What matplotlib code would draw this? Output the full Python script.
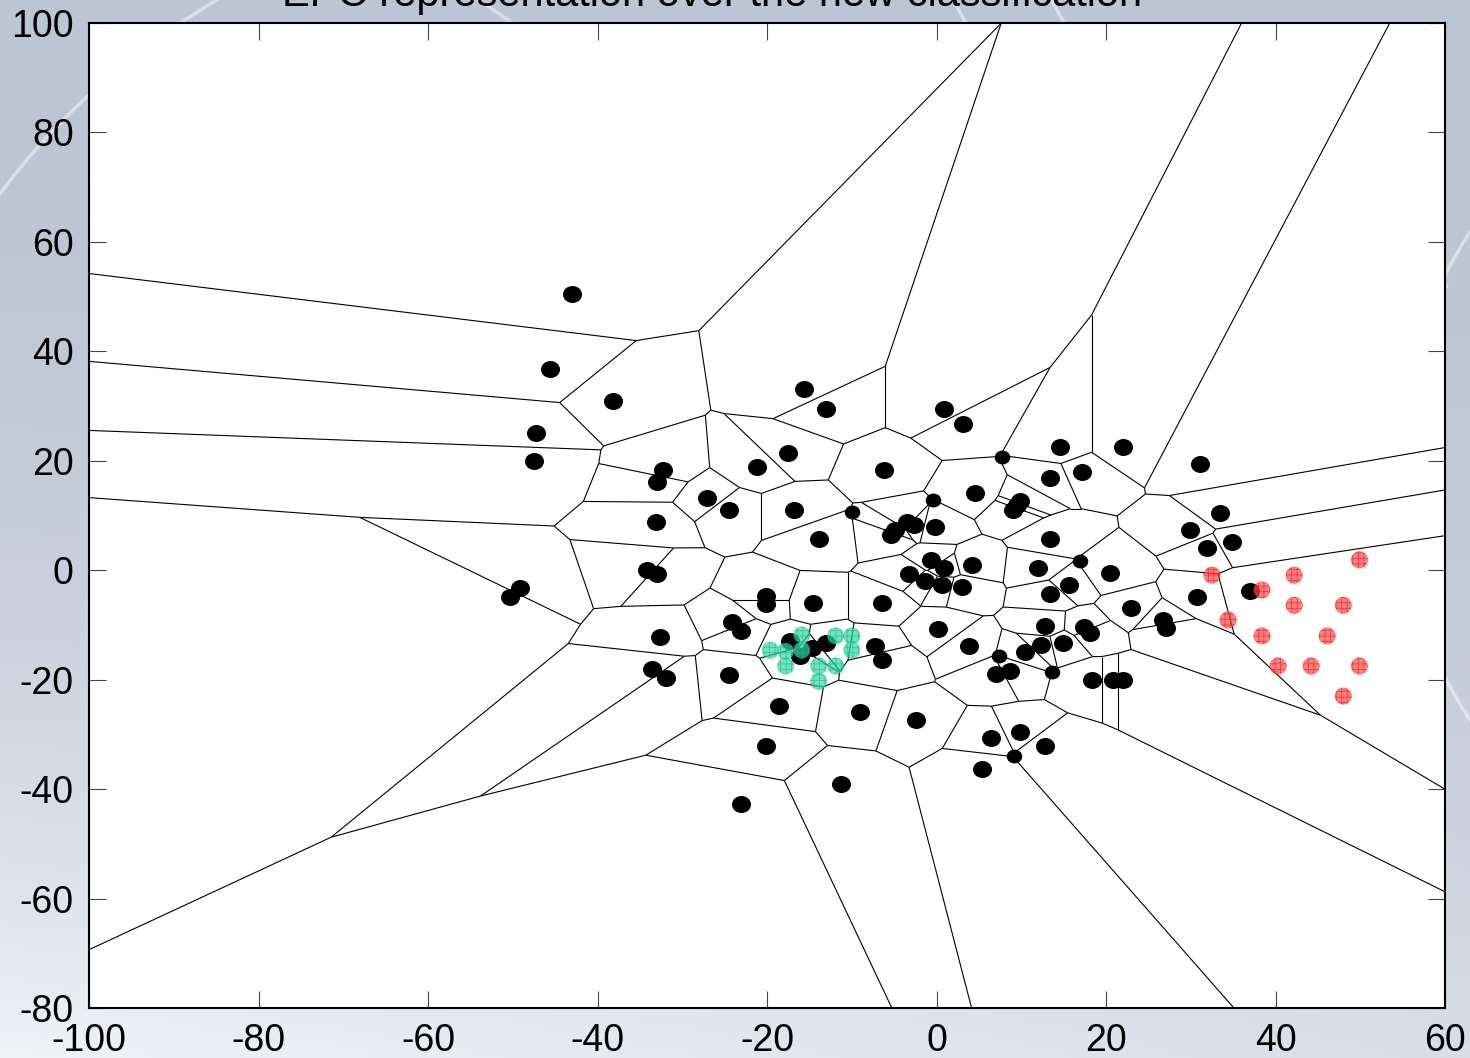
import numpy as np
import matplotlib
matplotlib.use("Agg")
import matplotlib.pyplot as plt
import matplotlib.tri as mtri
from matplotlib.collections import LineCollection
from matplotlib.markers import MarkerStyle
from matplotlib.transforms import Affine2D

plt.rcParams['font.family'] = ['Liberation Sans', 'DejaVu Sans']
plt.rcParams['hatch.linewidth'] = 0.6

# EPC samples (black dots), these are the Voronoi sites
epc_x = [-43.0, -45.6, -38.2, -47.2, -47.5, -32.3, -33.0, -33.1, -34.2, -33.0,
         -49.1, -50.3, -32.6, -33.6, -31.9, -27.1, -24.5, -21.2, -17.5, -15.6,
         -13.0, -16.8, -13.9, -6.2, 0.9, 3.1, -5.4, -4.9, -3.5, -2.7,
         -0.2, 4.5, 9.0, 9.5, 9.9, 13.4, 14.6, 17.2, 22.0, 31.1,
         13.4, 33.5, 29.9, 31.9, 34.9, 30.7, 37.0, 26.7, 27.1, 23.0,
         20.5, 12.0, 15.6, 13.4, 4.2, 0.9, -0.6, -3.2, -1.3, 0.6,
         3.0, -6.4, -14.6, -20.1, -20.1, -24.1, -23.1, -24.5, -18.6, -20.1,
         -23.1, -11.3, -9.0, -2.4, -7.3, -6.4, 0.2, 3.8, 10.4, 12.3,
         12.8, 14.9, 17.4, 18.1, 7.0, 8.7, 18.3, 20.8, 22.0, 6.4,
         9.9, 12.8, 5.4, -17.3, -16.1, -14.7, -13.0]
epc_y = [50.5, 36.8, 30.9, 25.0, 19.9, 18.3, 16.1, 8.8, 0.0, -0.7,
         -3.3, -4.9, -12.2, -18.1, -19.7, 13.2, 11.0, 18.9, 21.4, 33.1,
         29.5, 11.0, 5.7, 18.3, 29.5, 26.7, 6.4, 7.3, 8.8, 8.3,
         7.9, 14.1, 11.0, 11.9, 12.6, 16.8, 22.5, 17.9, 22.5, 19.4,
         5.7, 10.5, 7.3, 4.1, 5.2, -4.9, -3.8, -9.1, -10.6, -6.9,
         -0.5, 0.4, -2.7, -4.3, 1.0, 0.4, 1.9, -0.7, -2.0, -2.7,
         -3.1, -6.0, -6.0, -4.7, -6.2, -9.5, -11.1, -19.2, -24.8, -32.1,
         -42.7, -39.1, -25.9, -27.4, -13.9, -16.4, -10.7, -13.9, -15.0, -13.7,
         -10.2, -13.3, -10.4, -11.5, -19.0, -18.4, -20.1, -20.1, -20.1, -30.7,
         -29.6, -32.1, -36.3, -12.9, -15.7, -14.2, -13.3]

# smaller EPC dots (not used as sites)
epc_small_x = [7.7, -0.4, -10.0, 16.9, 7.4, 13.6, 9.1]
epc_small_y = [20.7, 12.8, 10.6, 1.7, -15.7, -18.6, -34.0]

# new class A (green)
green_x = [-19.6, -17.8, -15.9, -15.9, -17.8, -13.9, -13.9, -11.9, -11.9, -10.0, -10.0]
green_y = [-14.6, -14.8, -11.8, -14.6, -17.5, -17.5, -20.3, -17.5, -12.0, -12.0, -14.6]

# new class B (red)
red_x = [32.5, 42.2, 49.9, 38.4, 42.2, 48.0, 34.4, 38.4, 46.1, 40.3, 44.2, 49.9, 48.0]
red_y = [-0.9, -0.9, 1.9, -3.6, -6.4, -6.4, -9.1, -12.0, -12.0, -17.5, -17.5, -17.5, -23.0]

x_ticks = [-100, -80, -60, -40, -20, 0, 20, 40, 60]
y_ticks = [-80, -60, -40, -20, 0, 20, 40, 60, 80, 100]
title = "EPC representation over the new classification"


def voronoi_segments(x, y, far=3000.0):
    pts = np.column_stack([x, y]).astype(float)
    tri = mtri.Triangulation(pts[:, 0], pts[:, 1])
    t = tri.triangles
    a, b, c = pts[t[:, 0]], pts[t[:, 1]], pts[t[:, 2]]
    d = 2 * (a[:, 0] * (b[:, 1] - c[:, 1]) + b[:, 0] * (c[:, 1] - a[:, 1])
             + c[:, 0] * (a[:, 1] - b[:, 1]))
    sa, sb, sc = (a ** 2).sum(1), (b ** 2).sum(1), (c ** 2).sum(1)
    ux = (sa * (b[:, 1] - c[:, 1]) + sb * (c[:, 1] - a[:, 1]) + sc * (a[:, 1] - b[:, 1])) / d
    uy = (sa * (c[:, 0] - b[:, 0]) + sb * (a[:, 0] - c[:, 0]) + sc * (b[:, 0] - a[:, 0])) / d
    cc = np.column_stack([ux, uy])
    segs = []
    for i in range(len(t)):
        for j in range(3):
            nb = tri.neighbors[i, j]
            if nb > i:
                segs.append([cc[i], cc[nb]])
            elif nb == -1:
                # open cell: send a ray outward, perpendicular to the hull edge
                p = pts[t[i, j]]
                q = pts[t[i, (j + 1) % 3]]
                r = pts[t[i, (j + 2) % 3]]
                e = q - p
                n = np.array([-e[1], e[0]])
                if np.dot(r - p, n) > 0:
                    n = -n
                n = n / np.hypot(n[0], n[1])
                segs.append([cc[i], cc[i] + n * far])
    return segs


fig = plt.figure(figsize=(14.7, 10.58), dpi=100)

# slide background: blue-grey on top, fading lighter towards the bottom, with soft swirls
bg = fig.add_axes([0, 0, 1, 1], zorder=-5)
yy, xx = np.mgrid[0:1:200j, 0:1:300j]
top = np.array([188, 197, 211]) / 255.0
bottom = np.array([240, 242, 246]) / 255.0
w = np.clip((1 - yy) ** 2.2 * (0.55 + 0.45 * (1 - xx)), 0, 1)
grad = top[None, None, :] * (1 - w[..., None]) + bottom[None, None, :] * w[..., None]
bg.imshow(grad, extent=[0, 1, 0, 1], aspect='auto', origin='lower')
for cx, cy, rad, t0, t1 in [(0.35, 0.35, 0.62, 95, 160), (0.30, 0.30, 0.72, 100, 150),
                            (0.40, 0.40, 0.50, 100, 170), (1.10, 1.30, 0.50, 190, 250),
                            (1.05, 1.25, 0.38, 195, 260), (-0.2, -0.1, 0.95, 40, 80),
                            (0.05, 0.40, 0.30, 120, 250), (1.25, 0.55, 0.30, 120, 240)]:
    th = np.radians(np.linspace(t0, t1, 120))
    bg.plot(cx + rad * np.cos(th), cy + rad * np.sin(th) * 1.39, color='white',
            lw=2.5, alpha=0.45)
bg.set_xlim(0, 1)
bg.set_ylim(0, 1)
bg.axis('off')

ax = fig.add_axes([89 / 1470, 1 - 1008 / 1058, 1356 / 1470, 985 / 1058], zorder=1)
ax.set_facecolor('white')

segs = voronoi_segments(epc_x, epc_y)
ax.add_collection(LineCollection(segs, colors='black', linewidths=0.8, zorder=2))

dot = MarkerStyle('o', transform=Affine2D().scale(1.12, 1.0))
ax.scatter(epc_x, epc_y, s=150, marker=dot, color='black', linewidths=0, zorder=3)
ax.scatter(epc_small_x, epc_small_y, s=100, marker=dot, color='black', linewidths=0, zorder=3)
ax.scatter(green_x, green_y, s=140, marker='o', facecolor=(0.2, 0.84, 0.64, 0.7),
           edgecolor=(0.05, 0.72, 0.52, 0.6), linewidths=0.3, hatch='+++', zorder=4)
ax.scatter(red_x, red_y, s=140, marker='o', facecolor=(1.0, 0.3, 0.3, 0.7),
           edgecolor=(1.0, 0.0, 0.0, 0.6), linewidths=0.3, hatch='+++', zorder=4)

ax.set_xlim(-100, 60)
ax.set_ylim(-80, 100)
ax.set_xticks(x_ticks)
ax.set_yticks(y_ticks)
ax.set_xticklabels([str(v) for v in x_ticks])
ax.set_yticklabels([str(v) for v in y_ticks])
ax.tick_params(direction='in', length=12, width=0.8, color='#444444',
               top=True, right=True, labelsize=27)
ax.tick_params(axis='x', pad=11)
ax.tick_params(axis='y', pad=11)
for sp in ax.spines.values():
    sp.set_linewidth(1.5)
    sp.set_color('black')

fig.text(712 / 1470, 1 - 6 / 1058, title, ha='center', va='baseline', fontsize=30)

fig.savefig('out.png', dpi=100)
